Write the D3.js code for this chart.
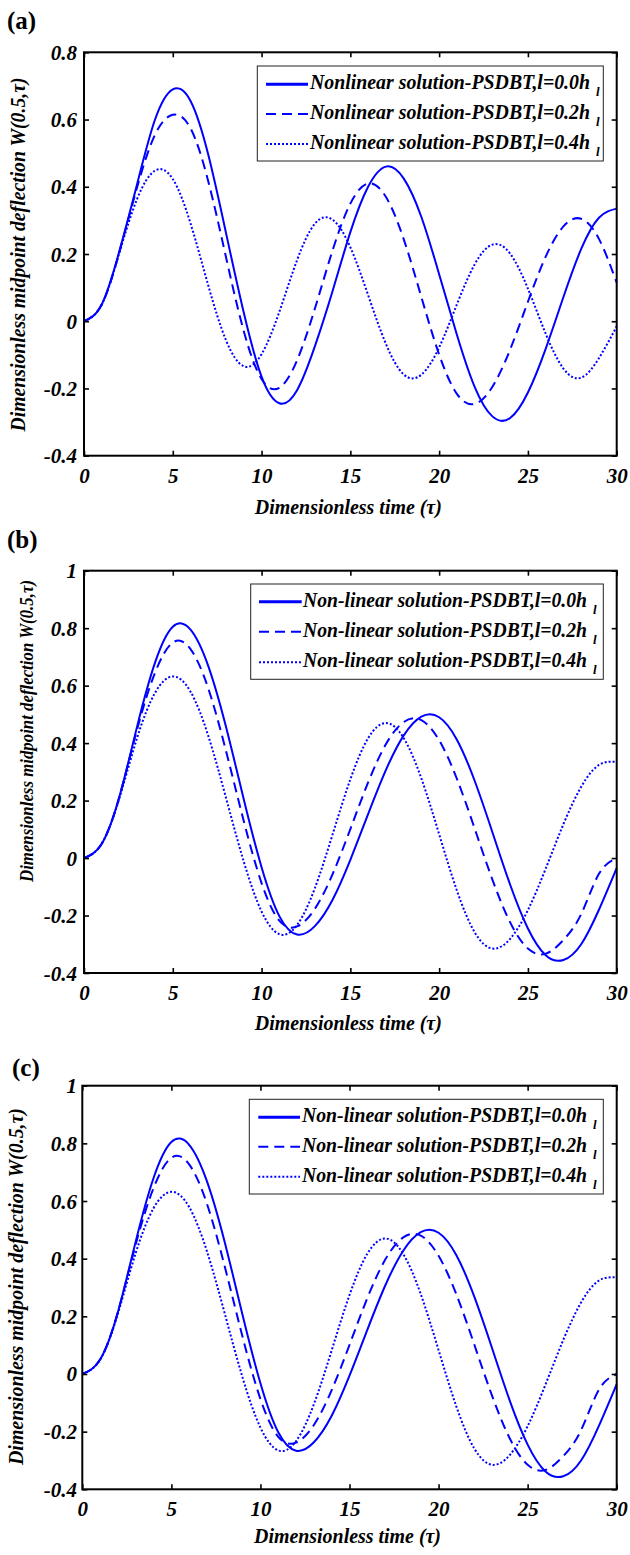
<!DOCTYPE html>
<html>
<head>
<meta charset="utf-8">
<script src="https://cdn.jsdelivr.net/npm/d3@7"></script>
<style>
  html, body { margin: 0; padding: 0; background: #ffffff; }
  svg { display: block; }
  text { font-family: "Liberation Serif", "Times New Roman", serif; }
</style>
</head>
<body>
<div id="chart"></div>
<script>
// time samples (tau) shared by every curve
var tau = [0,1,2,3,4,5,6,7,8,9,10,11,12,13,14,15,16,17,18,19,20,21,22,23,24,25,26,27,28,29,30];

// panel (a): Nonlinear solution-PSDBT
var a_l00 = [0,0.05,0.21,0.41,0.60,0.69,0.655,0.495,0.262,0.025,-0.165,-0.244,-0.205,-0.075,0.09,0.265,0.40,0.46,0.425,0.31,0.14,-0.04,-0.195,-0.283,-0.288,-0.212,-0.082,0.072,0.215,0.308,0.335];
var a_l02 = [0,0.05,0.207,0.40,0.555,0.614,0.574,0.416,0.19,-0.03,-0.172,-0.198,-0.116,0.037,0.211,0.35,0.41,0.37,0.245,0.072,-0.099,-0.216,-0.246,-0.195,-0.084,0.058,0.192,0.282,0.305,0.245,0.115];
var a_l04 = [0,0.05,0.205,0.365,0.448,0.423,0.291,0.106,-0.057,-0.134,-0.098,0.028,0.182,0.29,0.302,0.22,0.078,-0.067,-0.158,-0.159,-0.078,0.05,0.169,0.228,0.201,0.097,-0.037,-0.141,-0.168,-0.11,-0.015];

// panels (b) and (c): Non-linear solution-PSDBT (same curves)
var bc_l00 = [0,0.05,0.215,0.46,0.68,0.805,0.795,0.668,0.456,0.204,-0.032,-0.202,-0.266,-0.237,-0.145,-0.006,0.153,0.306,0.426,0.492,0.49,0.412,0.269,0.09,-0.093,-0.245,-0.338,-0.355,-0.30,-0.18,-0.035];
var bc_l02 = [0,0.05,0.215,0.45,0.645,0.75,0.727,0.59,0.372,0.128,-0.087,-0.218,-0.238,-0.177,-0.056,0.101,0.263,0.396,0.473,0.48,0.41,0.276,0.103,-0.075,-0.224,-0.315,-0.333,-0.285,-0.195,-0.055,0];
var bc_l04 = [0,0.05,0.21,0.42,0.575,0.632,0.579,0.425,0.209,-0.013,-0.186,-0.265,-0.233,-0.105,0.082,0.274,0.417,0.47,0.418,0.277,0.083,-0.113,-0.258,-0.315,-0.281,-0.181,-0.037,0.118,0.248,0.324,0.335];

// tick values
var xTicks = [0,5,10,15,20,25,30];
var yTicksA = [-0.4,-0.2,0,0.2,0.4,0.6,0.8];
var yTicksBC = [-0.4,-0.2,0,0.2,0.4,0.6,0.8,1];

// legend text
var labelsA = ["Nonlinear solution-PSDBT,l=0.0h","Nonlinear solution-PSDBT,l=0.2h","Nonlinear solution-PSDBT,l=0.4h"];
var labelsBC = ["Non-linear solution-PSDBT,l=0.0h","Non-linear solution-PSDBT,l=0.2h","Non-linear solution-PSDBT,l=0.4h"];
var labelSub = "l";

var xTitle = "Dimensionless time (\u03c4)";
var yTitle = "Dimensionless midpoint deflection W(0.5,\u03c4)";

var blue = "#0000ff";
var dashes = ["none","10,6","2,2"];

var svg = d3.select("#chart").append("svg")
	.attr("width",630).attr("height",1555)
	.style("background","#ffffff");

function bi(sel, size){
	return sel.style("font-size",size+"px").style("font-weight","bold").style("font-style","italic").attr("fill","#000");
}

function draw_panel(p){
	var g = svg.append("g");

	var x = d3.scaleLinear().domain([0,30]).range([p.left,p.right]);
	var y = d3.scaleLinear().domain(p.ydom).range([p.bottom,p.top]);

	var line = d3.line()
		.x(function(d){return x(d[0])})
		.y(function(d){return y(d[1])})
		.curve(d3.curveNatural);

	//curves
	p.series.forEach(function(s,i){
		var pts = tau.map(function(t,j){return [t, s[j]]});
		g.append("path")
			.attr("d", line(pts))
			.attr("fill","none")
			.attr("stroke",blue)
			.attr("stroke-width",2)
			.attr("stroke-dasharray",dashes[i]);
	});

	var fmt = function(d){return String(d)};

	//axes, inward ticks on all four sides
	var ax = {};
	ax.b = g.append("g").attr("transform","translate(0,"+p.bottom+")")
		.call(d3.axisBottom(x).tickValues(xTicks).tickSizeInner(-5).tickSizeOuter(0).tickFormat(fmt));
	ax.t = g.append("g").attr("transform","translate(0,"+p.top+")")
		.call(d3.axisTop(x).tickValues(xTicks).tickSizeInner(-5).tickSizeOuter(0).tickFormat(""));
	ax.l = g.append("g").attr("transform","translate("+p.left+",0)")
		.call(d3.axisLeft(y).tickValues(p.yticks).tickSizeInner(-5).tickSizeOuter(0).tickFormat(fmt));
	ax.r = g.append("g").attr("transform","translate("+p.right+",0)")
		.call(d3.axisRight(y).tickValues(p.yticks).tickSizeInner(-5).tickSizeOuter(0).tickFormat(""));

	[ax.b,ax.t,ax.l,ax.r].forEach(function(a){
		a.select(".domain").remove();
		a.selectAll(".tick line").attr("stroke","#000").attr("stroke-width",1.6);
	});

	bi(ax.b.selectAll("text").attr("y",27).attr("dy",null), 21);
	bi(ax.l.selectAll("text").attr("x",-(p.left-77)).attr("dy",null).attr("y",7), 21);

	//frame
	g.append("rect")
		.attr("x",p.left).attr("y",p.top)
		.attr("width",p.right-p.left).attr("height",p.bottom-p.top)
		.attr("fill","none").attr("stroke","#000").attr("stroke-width",2);

	//titles
	bi(g.append("text")
		.attr("x",(p.left+p.right)/2-2).attr("y",p.xtitleY)
		.attr("text-anchor","middle")
		.attr("textLength",187).attr("lengthAdjust","spacingAndGlyphs")
		.text(xTitle), 20);

	bi(g.append("text")
		.attr("transform","translate("+p.ylab.x+","+p.ylab.y+") rotate(-90)")
		.attr("text-anchor","middle")
		.attr("textLength",p.ylab.len).attr("lengthAdjust","spacingAndGlyphs")
		.text(yTitle), p.ylab.size);

	g.append("text")
		.attr("x",p.tag.x).attr("y",p.tag.y)
		.style("font-size","25px").style("font-weight","bold")
		.text(p.tag.text);

	//legend
	var L = p.legend;
	var lg = g.append("g");
	lg.append("rect")
		.attr("x",L.x0).attr("y",L.y0)
		.attr("width",L.x1-L.x0).attr("height",L.y1-L.y0)
		.attr("fill","#fff").attr("stroke","#222").attr("stroke-width",1);

	var rows = lg.selectAll("g.row").data(p.labels).enter().append("g").classed("row",true)
		.attr("transform",function(d,i){return "translate(0,"+L.rows[i]+")"});
	rows.append("line")
		.attr("x1",L.sx0).attr("x2",L.sx1).attr("y1",0).attr("y2",0)
		.attr("stroke",blue)
		.attr("stroke-width",function(d,i){return i==0 ? 3 : 2})
		.attr("stroke-dasharray",function(d,i){return dashes[i]});
	bi(rows.append("text")
		.attr("x",L.tx).attr("y",5)
		.attr("textLength",L.tw).attr("lengthAdjust","spacingAndGlyphs")
		.text(function(d){return d}), 20);
	bi(rows.append("text")
		.attr("x",L.tx+L.tw+6).attr("y",12)
		.text(labelSub), 13);
}

draw_panel({
	left:84, right:616.7, top:52.3, bottom:455.7,
	ydom:[-0.4,0.8], yticks:yTicksA,
	series:[a_l00,a_l02,a_l04], labels:labelsA,
	legend:{x0:257.3,y0:66,x1:603.3,y1:161,rows:[84.3,114,144],sx0:266,sx1:308,tx:310,tw:280},
	ylab:{x:25,y:254.5,size:21,len:354},
	xtitleY:514,
	tag:{text:"(a)",x:7,y:29}
});

draw_panel({
	left:84, right:616.7, top:570.7, bottom:973,
	ydom:[-0.4,1], yticks:yTicksBC,
	series:[bc_l00,bc_l02,bc_l04], labels:labelsBC,
	legend:{x0:250.7,y0:584,x1:603.3,y1:679.3,rows:[601.7,631.7,662.3],sx0:259,sx1:301.7,tx:303,tw:284},
	ylab:{x:33,y:731,size:18,len:302},
	xtitleY:1030,
	tag:{text:"(b)",x:7,y:547.5}
});

draw_panel({
	left:82.3, right:616.7, top:1085.7, bottom:1489.3,
	ydom:[-0.4,1], yticks:yTicksBC,
	series:[bc_l00,bc_l02,bc_l04], labels:labelsBC,
	legend:{x0:249.3,y0:1099.3,x1:603.3,y1:1194,rows:[1117.3,1146.7,1176.7],sx0:258.3,sx1:300,tx:302,tw:285},
	ylab:{x:23,y:1286.5,size:21,len:357},
	xtitleY:1543,
	tag:{text:"(c)",x:12,y:1075.5}
});
</script>
</body>
</html>
